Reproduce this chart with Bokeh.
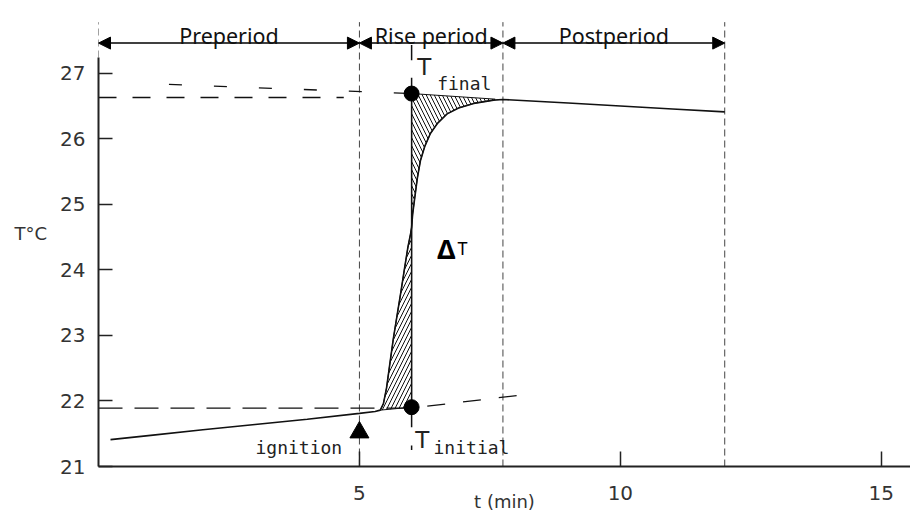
from bokeh.plotting import figure
from bokeh.models import Range1d, FixedTicker, Arrow, NormalHead, Label, LinearAxis
from bokeh.embed import file_html
from bokeh.resources import INLINE

# ---- data ----
pre_t = [0.23, 1, 2, 3, 4, 5, 5.3, 5.4]
pre_T = [21.41, 21.475, 21.56, 21.64, 21.72, 21.81, 21.84, 21.86]
rise_t = [5.46, 5.52, 5.58, 5.65, 5.72, 5.79, 5.86, 5.93, 5.98, 6.0, 6.02, 6.06, 6.11, 6.17, 6.25, 6.36, 6.5, 6.68, 6.9, 7.19, 7.57]
rise_T = [21.96, 22.2, 22.55, 22.95, 23.3, 23.64, 24.0, 24.35, 24.55, 24.65, 24.85, 25.1, 25.4, 25.67, 25.88, 26.08, 26.24, 26.38, 26.47, 26.54, 26.59]
post_t = [7.75, 9, 10, 11, 12]
post_T = [26.60, 26.545, 26.50, 26.455, 26.41]

t_marker = 6.0
T_initial = 21.905
T_final = 26.69
ignition_t = 5.0
ignition_T = 21.52

period_bounds = [0, 5, 7.75, 12]
period_names = ["Preperiod", "Rise period", "Postperiod"]

pre_extrap_t = [6.3, 8.2]
pre_extrap_T = [21.92, 22.10]
post_extrap_t = [1.35, 6.0]
post_extrap_T = [26.83, 26.69]
level_lo_t = [0, 6.0]
level_lo_T = [21.89, 21.89]
level_hi_t = [0, 4.7]
level_hi_T = [26.63, 26.63]

y_ticks = [21, 22, 23, 24, 25, 26, 27]
x_ticks = [5, 10, 15]

INK = "#111111"
TICKFONT = "DejaVu Sans"
MONO = "DejaVu Sans Mono"

p = figure(width=910, height=518, x_range=Range1d(0, 15.56), y_range=Range1d(21, 28.11),
           output_backend="svg", toolbar_location=None,
           x_axis_type=None, y_axis_type=None,
           min_border_left=98, min_border_right=0, min_border_top=0, min_border_bottom=52)
p.outline_line_color = None
p.background_fill_color = "white"
p.border_fill_color = "white"

yaxis = LinearAxis(ticker=FixedTicker(ticks=y_ticks), bounds=(21, 27.24),
                   major_tick_in=14, major_tick_out=0, minor_tick_in=0, minor_tick_out=0,
                   axis_line_width=2, axis_line_color="#222222",
                   major_tick_line_width=1.5, major_tick_line_color="#222222",
                   major_label_standoff=13, major_label_text_font=TICKFONT,
                   major_label_text_font_size="20px", major_label_text_color="#333333",
                   axis_label="T°C", axis_label_orientation="horizontal",
                   axis_label_standoff=10, axis_label_text_font=TICKFONT,
                   axis_label_text_font_size="18px", axis_label_text_font_style="normal",
                   axis_label_text_color="#333333")
p.add_layout(yaxis, "left")
xaxis = LinearAxis(ticker=FixedTicker(ticks=x_ticks),
                   major_tick_in=15, major_tick_out=0, minor_tick_in=0, minor_tick_out=0,
                   axis_line_width=2, axis_line_color="#222222",
                   major_tick_line_width=1.5, major_tick_line_color="#222222",
                   major_label_standoff=19, major_label_text_font=TICKFONT,
                   major_label_text_font_size="20px", major_label_text_color="#333333",
                   axis_label="t (min)", axis_label_standoff=-12, axis_label_text_font=TICKFONT,
                   axis_label_text_font_size="18px", axis_label_text_font_style="normal",
                   axis_label_text_color="#333333")
p.add_layout(xaxis, "below")

# vertical dashed period boundaries
top_T = 27.78
for b in period_bounds:
    lo = 27.24 if b == 0 else 21
    p.line([b, b], [lo, top_T], line_color="#444444", line_width=1, line_dash="7 4")

# hatched regions built from the curve
up_idx = [i for i, t in enumerate(rise_t) if t >= t_marker]
lo_idx = [i for i, t in enumerate(rise_t) if t <= t_marker]
up_x = [t_marker] + [rise_t[i] for i in up_idx] + [post_t[0] - 0.15, t_marker]
up_y = [rise_T[up_idx[0]]] + [rise_T[i] for i in up_idx] + [26.605, T_final]
lo_x = [rise_t[i] for i in lo_idx] + [t_marker, t_marker, pre_t[-1]]
lo_y = [rise_T[i] for i in lo_idx] + [rise_T[lo_idx[-1]], T_initial, pre_T[-1]]
p.patch(up_x, up_y, fill_alpha=0, hatch_pattern="left_diagonal_line", hatch_color=INK,
        hatch_scale=8, hatch_weight=1, line_color=INK, line_width=1)
p.patch(lo_x, lo_y, fill_alpha=0, hatch_pattern="right_diagonal_line", hatch_color=INK,
        hatch_scale=8, hatch_weight=1, line_color=INK, line_width=1)

# dashed construction lines
p.line(level_lo_t, level_lo_T, line_color=INK, line_width=1.3, line_dash="24 12")
p.line(level_hi_t, level_hi_T, line_color=INK, line_width=1.3, line_dash="18 16")
p.line(post_extrap_t, post_extrap_T, line_color=INK, line_width=1.3, line_dash="13 32")
p.line(pre_extrap_t, pre_extrap_T, line_color=INK, line_width=1.3, line_dash="18 18")

# temperature curve
p.line(pre_t + rise_t + post_t, pre_T + rise_T + post_T, line_color=INK, line_width=1.6)

# marker line at t = 6
p.multi_line([[t_marker, t_marker]] * 4,
             [[27.2, 27.43], [T_final, 26.93], [T_initial, T_final], [21.6, T_initial]],
             line_color=INK, line_width=1.5)
p.line([t_marker, t_marker], [21.25, 21.32], line_color=INK, line_width=1.5)

p.scatter([t_marker, t_marker], [T_final, T_initial], marker="circle", size=15, color="black")
p.scatter([ignition_t], [ignition_T], marker="triangle", size=19, color="black")

# period arrows and names
arrow_T = 27.46
for a, b, name in zip(period_bounds[:-1], period_bounds[1:], period_names):
    p.add_layout(Arrow(x_start=a, x_end=b, y_start=arrow_T, y_end=arrow_T,
                       start=NormalHead(size=12, fill_color="black", line_color="black"),
                       end=NormalHead(size=12, fill_color="black", line_color="black"),
                       line_color="black", line_width=1.5))
    p.add_layout(Label(x=(a + b) / 2, y=27.58, text=name, text_align="center",
                       text_baseline="alphabetic", text_font="Noto Sans",
                       text_font_size="21.5px", text_color="#111111"))

def lab(x, y, text, size, font=MONO, align="left", baseline="alphabetic", style="normal", color="#222222"):
    p.add_layout(Label(x=x, y=y, text=text, text_align=align,
                       text_baseline=baseline, text_font=font, text_font_size=size,
                       text_font_style=style, text_color=color))

lab(6.11, 27.09, "T", "23px", font=TICKFONT)
lab(6.49, 26.85, "final", "18px")
lab(6.07, 21.40, "T", "23px", font=TICKFONT)
lab(6.42, 21.29, "initial", "18px")
lab(4.67, 21.29, "ignition", "18px", align="right")
lab(6.49, 24.33, "Δ", "27px", font="Noto Sans", style="bold", color="#000000")
lab(6.88, 24.33, "T", "18px", font="Noto Sans", color="#000000")

open("out.html", "w").write(file_html(p, INLINE))
